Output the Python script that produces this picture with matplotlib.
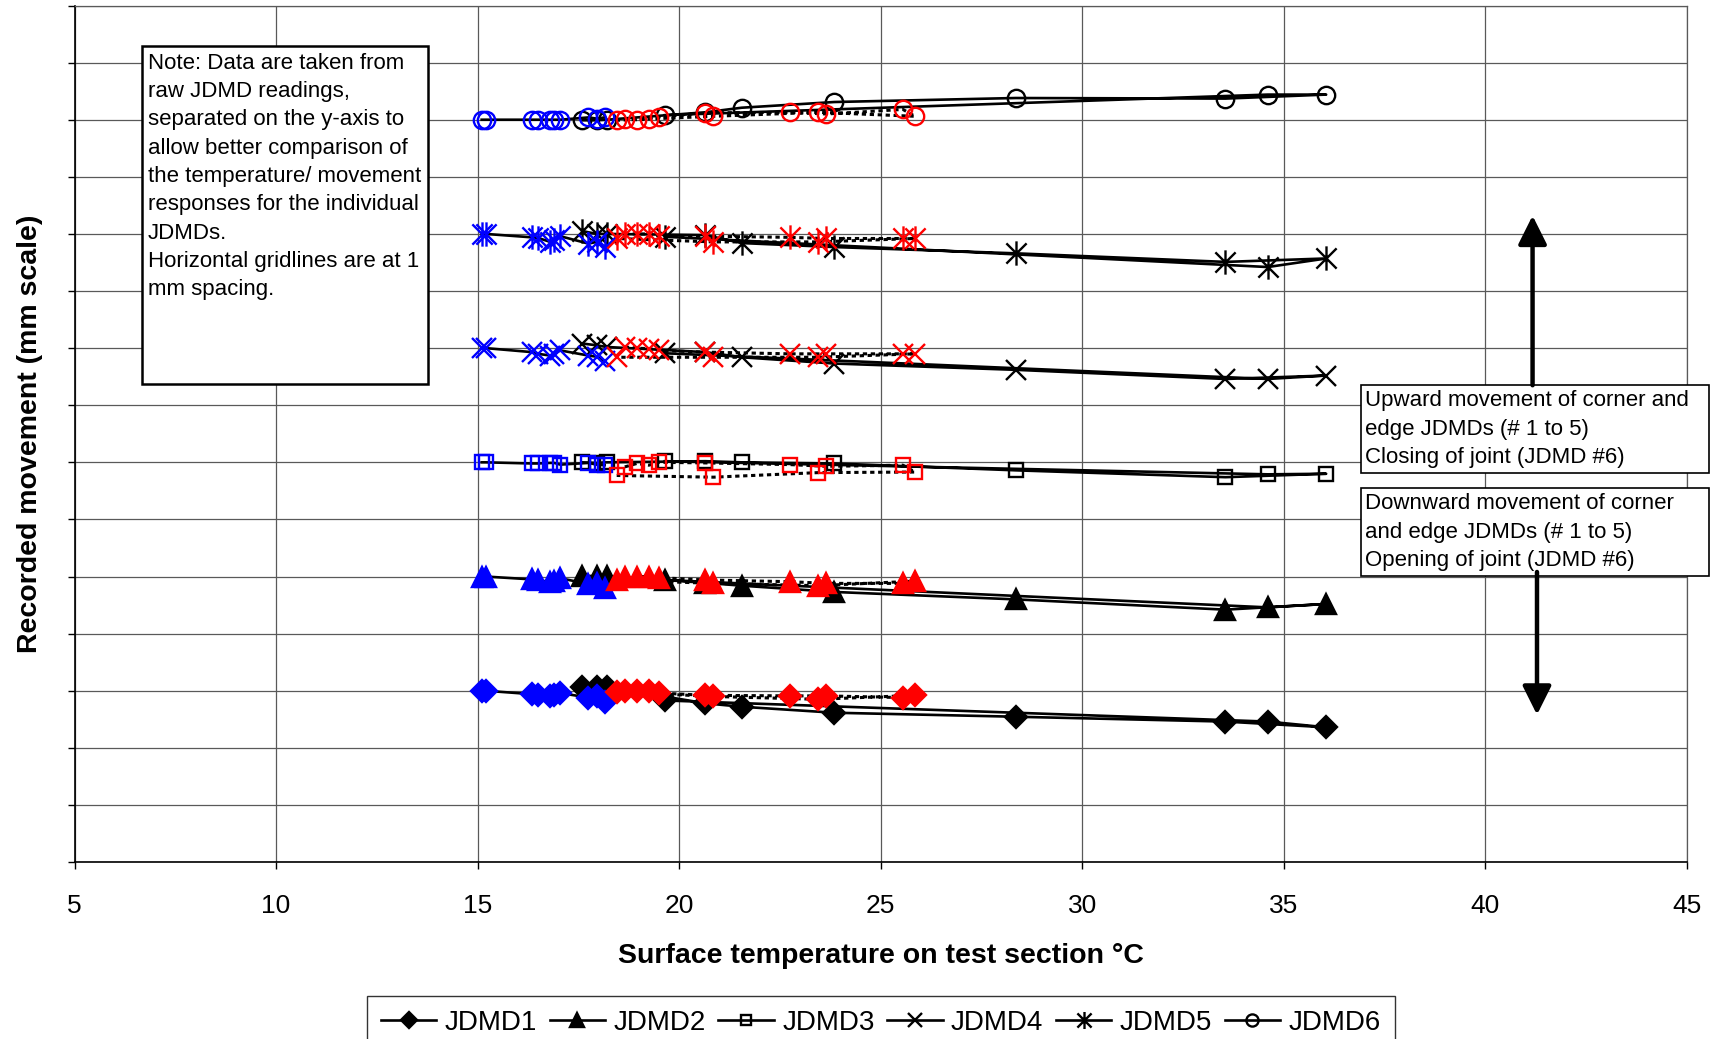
import numpy as np
import matplotlib
matplotlib.use("Agg")
import matplotlib.pyplot as plt
from matplotlib.path import Path
from matplotlib.patches import Rectangle

plt.rcParams['font.family'] = ['Liberation Sans', 'DejaVu Sans']

# ---- data (offset in mm from each JDMD's base level) ----
names = ['JDMD1', 'JDMD2', 'JDMD3', 'JDMD4', 'JDMD5', 'JDMD6']
base_level = [3, 5, 7, 9, 11, 13]

# blue period
blue_temp = [15.1, 15.2, 16.35, 16.5, 16.8, 16.9, 17.05, 17.75, 17.95, 18.15]
blue_move = [
    [0.0, 0.0, -0.06, -0.08, -0.10, -0.08, -0.04, -0.12, -0.10, -0.19],
    [0.0, 0.0, -0.05, -0.06, -0.10, -0.08, -0.03, -0.13, -0.12, -0.20],
    [0.0, 0.0, -0.02, -0.02, -0.01, -0.01, -0.04, -0.01, -0.04, -0.05],
    [0.0, 0.0, -0.07, -0.10, -0.13, -0.10, -0.04, -0.13, -0.15, -0.23],
    [0.0, 0.0, -0.06, -0.07, -0.14, -0.10, -0.04, -0.17, -0.14, -0.23],
    [0.0, 0.0, 0.0, 0.0, 0.0, 0.0, 0.0, 0.04, 0.02, 0.04],
]

# red period (time order)
red_temp = [18.65, 18.95, 19.25, 19.5, 20.65, 22.75, 23.65, 25.55, 25.85, 23.45, 20.85, 18.45]
red_move = [
    [0.0, 0.0, 0.0, -0.04, -0.08, -0.09, -0.09, -0.12, -0.08, -0.15, -0.10, -0.02],
    [0.0, 0.0, 0.0, -0.02, -0.06, -0.09, -0.12, -0.12, -0.08, -0.16, -0.12, -0.06],
    [-0.08, -0.02, -0.05, 0.0, -0.01, -0.04, -0.07, -0.05, -0.17, -0.18, -0.26, -0.23],
    [0.02, 0.0, -0.01, -0.04, -0.07, -0.10, -0.10, -0.10, -0.10, -0.16, -0.16, -0.16],
    [0.0, 0.0, 0.0, -0.04, -0.04, -0.06, -0.08, -0.08, -0.08, -0.14, -0.14, -0.08],
    [0.02, 0.0, 0.02, 0.05, 0.12, 0.13, 0.10, 0.18, 0.06, 0.13, 0.06, -0.01],
]

# black period (time order)
black_temp = [17.6, 17.95, 18.2, 20.65, 21.55, 23.85, 28.35, 33.55, 36.05, 34.6, 19.65]
black_move = [
    [0.07, 0.07, 0.07, -0.22, -0.28, -0.385, -0.455, -0.54, -0.64, -0.54, -0.17],
    [0.01, 0.01, 0.01, -0.11, -0.16, -0.27, -0.40, -0.58, -0.48, -0.54, -0.06],
    [0.0, -0.01, 0.0, 0.02, 0.0, -0.02, -0.14, -0.26, -0.20, -0.21, 0.02],
    [0.08, 0.05, 0.02, -0.07, -0.16, -0.27, -0.38, -0.54, -0.48, -0.54, -0.09],
    [0.05, 0.0, 0.0, -0.02, -0.16, -0.23, -0.34, -0.49, -0.43, -0.58, -0.05],
    [-0.01, -0.01, 0.0, 0.13, 0.21, 0.31, 0.38, 0.37, 0.44, 0.44, 0.08],
]

# excel style "star" marker: X with a vertical bar
star = Path([(-1, -1), (1, 1), (-1, 1), (1, -1), (0, -1.2), (0, 1.2)],
            [Path.MOVETO, Path.LINETO] * 3)

marker_style = [
    dict(marker='D', ms=11, filled=True),
    dict(marker='^', ms=15, filled=True),
    dict(marker='s', ms=10, filled=False),
    dict(marker='x', ms=15, filled=False),
    dict(marker=star, ms=17.5, filled=False),
    dict(marker='o', ms=12.5, filled=False),
]


def mk(style, color):
    d = dict(marker=style['marker'], ms=style['ms'], mec=color, mew=1.7)
    d['mfc'] = color if style['filled'] else 'none'
    return d


fig = plt.figure(figsize=(17.17, 10.39), dpi=100)
ax = fig.add_axes([0.0434, 0.1703, 0.9391, 0.8244])

handles = []
for i in range(6):
    b = base_level[i]
    st = marker_style[i]
    h, = ax.plot(black_temp, np.array(black_move[i]) + b, color='k', lw=1.9,
                 label=names[i], zorder=3, **mk(st, 'k'))
    handles.append(h)
    ax.plot(blue_temp, np.array(blue_move[i]) + b, color='k', lw=1.9,
            zorder=4, **mk(st, '#0000ff'))
    ax.plot(red_temp, np.array(red_move[i]) + b, color='k', lw=2.2,
            ls=(0, (1.4, 1.2)), zorder=5, **mk(st, '#ff0000'))

ax.set_xlim(5, 45)
ax.set_ylim(0, 15)
ax.set_xticks(np.arange(5, 46, 5))
ax.set_yticks(np.arange(0, 16, 1))
ax.set_yticklabels([])
ax.tick_params(axis='x', labelsize=19, length=5, width=1, pad=18, direction='out')
ax.tick_params(axis='y', length=5, width=1, direction='out')
ax.grid(True, color='0.35', lw=0.9)
ax.set_axisbelow(True)
for s in ['top', 'right']:
    ax.spines[s].set_color('0.35')
    ax.spines[s].set_linewidth(0.9)
for s in ['left', 'bottom']:
    ax.spines[s].set_color('k')
    ax.spines[s].set_linewidth(1.2)

ax.set_xlabel('Surface temperature on test section °C', fontsize=20.5, fontweight='bold')
ax.xaxis.set_label_coords(0.5, -0.095)
ax.set_ylabel('Recorded movement (mm scale)', fontsize=20.5, fontweight='bold')
ax.yaxis.set_label_coords(-0.0195, 0.5)

# note box
ax.add_patch(Rectangle((0.0419, 0.5581), 0.1773, 0.3946, transform=ax.transAxes,
                       fill=True, fc='white', ec='k', lw=1.8, zorder=6))
note = ('Note: Data are taken from\nraw JDMD readings,\nseparated on the y-axis to\n'
        'allow better comparison of\nthe temperature/ movement\nresponses for the individual\n'
        'JDMDs.\nHorizontal gridlines are at 1\nmm spacing.')
ax.text(0.0456, 0.945, note, transform=ax.transAxes, fontsize=16, va='top', ha='left',
        linespacing=1.46, zorder=7)

# movement direction boxes
boxes = [(0.5569, 'Upward movement of corner and\nedge JDMDs (# 1 to 5)\nClosing of joint (JDMD #6)'),
         (0.4367, 'Downward movement of corner\nand edge JDMDs (# 1 to 5)\nOpening of joint (JDMD #6)')]
for ytop, txt in boxes:
    hgt = 0.1025
    ax.add_patch(Rectangle((0.7978, ytop - hgt), 0.2158, hgt, transform=ax.transAxes,
                           fc='white', ec='k', lw=1.2, zorder=6, clip_on=False))
    ax.text(0.8003, ytop - 0.006, txt, transform=ax.transAxes, fontsize=16, va='top',
            ha='left', linespacing=1.46, zorder=7, clip_on=False)

arrow = dict(arrowstyle='-|>,head_length=0.7,head_width=0.35', lw=3.2, color='k',
             mutation_scale=25, shrinkA=0, shrinkB=0)
ax.annotate('', xy=(41.17, 11.32), xytext=(41.17, 8.35), arrowprops=arrow, zorder=8)
ax.annotate('', xy=(41.28, 2.58), xytext=(41.28, 5.08), arrowprops=arrow, zorder=8)

leg = fig.legend(handles=handles, loc='upper center', bbox_to_anchor=(0.513, 0.0414),
                 ncol=6, fontsize=20, frameon=True, fancybox=False, edgecolor='k',
                 markerscale=0.7, handlelength=2.0, handletextpad=0.3, columnspacing=0.45,
                 borderpad=0.5, borderaxespad=0)
leg.get_frame().set_linewidth(1.0)

fig.savefig('out.png', dpi=100)
